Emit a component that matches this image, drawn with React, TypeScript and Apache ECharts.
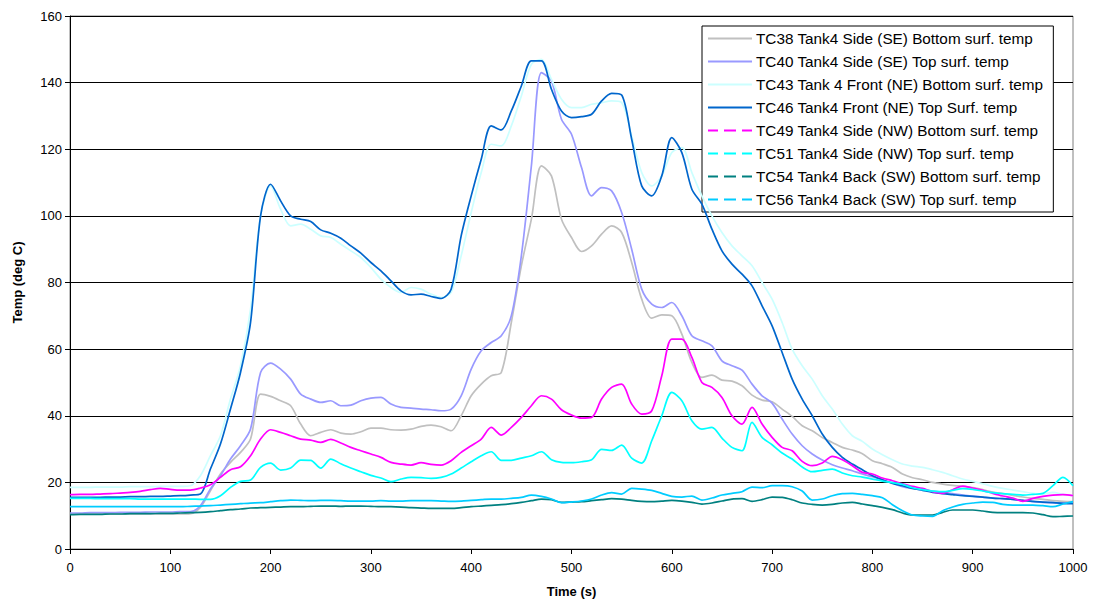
import React, { useEffect, useRef } from "react";
import * as echarts from "echarts";

const times: number[] = [];
for (let t = 0; t <= 1000; t += 10) times.push(t);

const seriesNames = [
  "TC38 Tank4 Side (SE) Bottom surf. temp",
  "TC40 Tank4 Side (SE) Top surf. temp",
  "TC43 Tank 4 Front (NE) Bottom surf. temp",
  "TC46 Tank4 Front (NE) Top Surf. temp",
  "TC49 Tank4 Side (NW) Bottom surf. temp",
  "TC51 Tank4 Side (NW) Top surf. temp",
  "TC54 Tank4 Back (SW) Bottom surf. temp",
  "TC56 Tank4 Back (SW) Top surf. temp",
];

const colors = ["#C0C0C0", "#9999FF", "#CCFFFF", "#0066CC", "#FF00FF", "#00FFFF", "#008080", "#00CCFF"];
const dashedLegend = [false, false, false, false, true, true, true, true];

const tc38 = [10.5, 10.5, 10.5, 10.5, 10.5, 10.5, 10.5, 10.5, 10.5, 10.5, 10.5, 10.5, 10.6,
  12.5, 17.5, 22.5, 26, 29, 33, 46.5, 45.8, 44.5, 43, 37.5, 34, 35, 35.8, 34.8, 34.5, 35.2,
  36.3, 36.3, 35.8, 35.7, 36, 36.8, 37.2, 36.7, 35.5, 40, 46, 49.5, 52, 53, 68, 85, 99, 115,
  112, 99, 93.5, 89.3, 91, 94.5, 97, 95, 86, 75, 69.3, 70.3, 70, 64.5, 56, 51.5, 52.2, 50.7,
  50.4, 49, 46.2, 44.7, 44.2, 42, 39.8, 37, 35.5, 33.5, 32, 30.5, 29.7, 28.6, 26.5, 25.6, 24.5,
  22.5, 21.4, 20.8, 20, 19.5, 19.1, 18.8, 18.4, 17.8, 17.1, 16.6, 16.1, 15.6, 15.2, 14.9, 14.5, 14.3, 14.2];

const tc40 = [10.8, 10.8, 10.9, 10.9, 10.9, 11, 11, 11, 11.1, 11.1, 11.1, 11.2, 11.2,
  13, 18, 22, 27, 31, 36, 53, 55.8, 54, 51, 46.5, 45, 44, 44.5, 43, 43.2, 44.5, 45.3, 45.5,
  43.5, 42.5, 42.3, 42, 41.8, 41.5, 42, 46, 54, 59.5, 62, 64, 70, 88, 115, 143, 140.5, 129,
  124.5, 114.5, 106, 108.5, 107.5, 101, 90, 78, 73.5, 72.5, 74, 70, 64, 62.5, 61, 56.5, 55,
  53.7, 49.5, 46, 43.8, 39, 34.5, 31, 28.5, 26.7, 25.3, 24.3, 23.5, 22.5, 21.7, 20.8, 19.8,
  18.7, 18.2, 17.8, 17.4, 17, 16.6, 16.2, 15.9, 15.6, 15.3, 15.1, 14.9, 14.6, 14.2, 14, 13.9, 13.8, 13.8];

const tc43 = [18.5, 18.5, 18.5, 18.6, 18.6, 18.6, 18.7, 18.7, 18.7, 18.8, 18.8, 18.8, 19,
  22, 28, 34, 45, 55, 72, 100, 109, 102, 97, 97.5, 96, 94, 93.5, 91.5, 89.5, 87.5, 84.5, 81,
  78.5, 77, 78.5, 78, 76.5, 75.5, 77, 88, 101, 113, 121.5, 121, 127, 136, 145.5, 147, 141,
  135, 132.5, 132.5, 133.5, 134, 134.5, 134, 124, 113, 109, 112, 119, 120.5, 113, 106, 100, 95,
  91, 88, 85, 80, 75, 68, 60, 55, 51, 46, 42, 37.5, 34, 32.3, 30, 28.3, 26.8, 25.5, 24.9,
  24.5, 23.8, 23, 22, 21, 20.3, 19.6, 18.8, 18.2, 17.7, 17.2, 16.7, 16.5, 17, 16.4, 16];

const tc46 = [15.5, 15.5, 15.5, 15.5, 15.6, 15.6, 15.7, 15.7, 15.8, 15.8, 15.9, 16, 16.2,
  16.5, 24, 31.5, 42, 53, 68, 100, 109.5, 104.5, 100, 99, 98.3, 95.8, 94.8, 93.3, 91, 88.8,
  86, 83.5, 80.5, 77.5, 76.3, 76.5, 75.8, 75.2, 78, 94, 106, 117, 127, 125.8, 131.5, 139,
  146.5, 146.5, 138, 131.5, 129.5, 129.8, 130.5, 134.5, 136.8, 136.3, 123, 109, 106, 112, 123.5,
  119, 108, 103.5, 96, 89.5, 85.5, 82.5, 79, 73, 67, 59, 51, 45, 40, 34.5, 30.5, 27.5, 25.5,
  23.8, 22, 20.8, 19.7, 19, 18.2, 17.6, 17, 16.6, 16.3, 16, 15.8, 15.6, 15.3, 15.1, 14.9,
  14.6, 14.3, 14.1, 13.9, 13.7, 13.6];

const tc49 = [16.3, 16.4, 16.4, 16.5, 16.6, 16.8, 17, 17.3, 17.8, 18.2, 17.9, 17.7, 17.7,
  18.3, 19.3, 21.5, 23.8, 24.7, 28, 33, 35.8, 35, 34, 33, 32.7, 32, 32.9, 31.8, 30.5, 29.5,
  28.5, 27.5, 26, 25.5, 25.2, 25.9, 25.4, 25.2, 26.5, 29, 31, 33, 36.5, 34.2, 36.5, 39.5, 43,
  46, 45, 41.8, 40.2, 39.3, 39.5, 45, 48.5, 49.5, 43.5, 40.5, 41.5, 52, 63, 63, 57.5, 50,
  48.5, 45.5, 40, 37.5, 42.5, 37.5, 33.5, 30.5, 29.5, 26.3, 25, 25.8, 27.8, 26.8, 25, 23,
  22.5, 21.3, 20.5, 19.6, 18.8, 18.2, 17.2, 16.7, 17.8, 18.9, 18.3, 17.6, 16.7, 15.9, 15.3,
  14.3, 15.2, 15.8, 16.2, 16.3, 16];

const tc51 = [15.2, 15.2, 15.2, 15.1, 15.1, 15.1, 15.1, 15, 15, 15, 15, 15, 15,
  14.9, 14.9, 16, 18.5, 20.3, 20.7, 24.5, 25.8, 23.7, 24.3, 26.7, 26.6, 24.3, 27, 25.6, 24.3,
  23.2, 22.1, 21.3, 20.2, 21, 21.5, 21.4, 21.2, 21.5, 22.5, 24.3, 26.2, 28, 29.2, 26.6, 26.6,
  27.3, 28, 29.2, 26.8, 26, 25.9, 26.2, 26.8, 29.9, 29.6, 31.2, 27.3, 25.8, 32.5, 40, 47,
  44.5, 38.5, 36, 36.5, 33.3, 30.5, 29.5, 38, 33.5, 31.3, 28.8, 27, 24.6, 23.2, 23.6, 24, 22.8,
  22, 21.6, 21, 20.4, 19.9, 19.4, 18.4, 17.8, 17.4, 17.2, 17.6, 18.1, 17.9, 17.4, 16.9, 16.6,
  16.4, 16.2, 16.4, 16.7, 19, 21.5, 19];

const tc54 = [10.3, 10.4, 10.4, 10.4, 10.5, 10.5, 10.6, 10.6, 10.6, 10.7, 10.7, 10.8, 10.9,
  11, 11.2, 11.5, 11.8, 12, 12.3, 12.4, 12.5, 12.6, 12.7, 12.7, 12.8, 12.9, 12.9, 12.8, 12.9,
  12.9, 12.8, 12.7, 12.7, 12.6, 12.4, 12.3, 12.2, 12.2, 12.2, 12.4, 12.7, 12.9, 13.1, 13.3,
  13.6, 14, 14.5, 15, 14.8, 14, 14.1, 14.2, 14.5, 14.8, 15.1, 15, 14.6, 14.3, 14.2, 14.4, 14.6,
  14.4, 14, 13.5, 13.8, 14.4, 15, 15.1, 14.3, 14.8, 15.6, 15.5, 14.8, 13.8, 13.4, 13.2, 13.4,
  13.8, 14, 13.5, 13, 12.5, 11.8, 10.8, 10.2, 10.2, 10.2, 11, 11.7, 11.7, 11.7, 11.4, 11, 10.9,
  10.9, 10.9, 10.8, 10.3, 9.7, 9.8, 9.9];

const tc56 = [12.7, 12.7, 12.7, 12.7, 12.7, 12.7, 12.7, 12.7, 12.7, 12.7, 12.7, 12.7, 12.8,
  12.9, 13, 13.2, 13.4, 13.6, 13.8, 13.9, 14.2, 14.5, 14.7, 14.6, 14.5, 14.6, 14.6, 14.5, 14.4,
  14.4, 14.4, 14.5, 14.4, 14.4, 14.5, 14.5, 14.5, 14.4, 14.3, 14.4, 14.6, 14.8, 15, 15, 15.2,
  15.5, 16.2, 15.8, 15, 13.9, 14.1, 14.4, 15, 16.2, 16.9, 16.5, 18.2, 18, 17.6, 16.7, 15.8,
  15.6, 15.9, 14.7, 15.3, 16.2, 16.7, 17.2, 18.6, 18.4, 19, 19, 18.7, 17.4, 14.7, 15, 16, 16.6,
  16.7, 16.4, 16, 15.4, 13.3, 11.5, 10.2, 9.9, 9.8, 11.5, 12.6, 13.4, 13.8, 14.1, 14, 13.4,
  13.2, 13.2, 13.2, 13, 12.7, 13.5, 14.2];

const allValues = [tc38, tc40, tc43, tc46, tc49, tc51, tc54, tc56];

const yTicks = { min: 0, max: 160, interval: 20 };
const xTicks = { min: 0, max: 1000, interval: 100 };

const solidIcon = "path://M0,0h44v2h-44z";
const dashedIcon = "path://M0,0h10v2h-10z M16,0h12v2h-12z M34,0h10v2h-10z";

export default function App() {
  const ref = useRef<HTMLDivElement>(null);
  useEffect(() => {
    if (!ref.current) return;
    const chart = echarts.init(ref.current, null, { renderer: "svg" });
    const font = "Arial, 'Liberation Sans', sans-serif";
    chart.setOption({
      animation: false,
      backgroundColor: "#ffffff",
      textStyle: { fontFamily: font },
      grid: {
        left: 70,
        right: 22,
        top: 16,
        bottom: 63,
        show: true,
        borderColor: "#808080",
        borderWidth: 1,
        containLabel: false,
      },
      legend: {
        orient: "vertical",
        left: 702,
        top: 26,
        padding: [5, 10, 5, 6],
        itemGap: 8,
        itemWidth: 44,
        itemHeight: 14,
        symbolKeepAspect: true,
        backgroundColor: "#ffffff",
        borderColor: "#000000",
        borderWidth: 1,
        textStyle: { fontSize: 15.3, color: "#000", fontFamily: font, padding: [0, 0, 0, -1] },
        data: seriesNames.map((n, i) => ({
          name: n,
          icon: dashedLegend[i] ? dashedIcon : solidIcon,
          itemStyle: { color: colors[i], borderWidth: 0 },
        })),
      },
      xAxis: {
        type: "value",
        min: xTicks.min,
        max: xTicks.max,
        interval: xTicks.interval,
        name: "Time (s)",
        nameLocation: "middle",
        nameGap: 36,
        nameTextStyle: { fontWeight: "bold", fontSize: 13, color: "#000" },
        axisLine: { show: true, lineStyle: { color: "#000", width: 1 } },
        axisTick: { show: true, length: 5, lineStyle: { color: "#000" } },
        axisLabel: { fontSize: 13, color: "#000", margin: 12, formatter: (v: number) => String(v) },
        splitLine: { show: false },
      },
      yAxis: {
        type: "value",
        min: yTicks.min,
        max: yTicks.max,
        interval: yTicks.interval,
        name: "Temp (deg C)",
        nameLocation: "middle",
        nameGap: 46,
        nameTextStyle: { fontWeight: "bold", fontSize: 13, color: "#000" },
        axisLine: { show: true, lineStyle: { color: "#000", width: 1 } },
        axisTick: { show: true, length: 5, lineStyle: { color: "#000" } },
        axisLabel: { fontSize: 13, color: "#000", margin: 8 },
        splitLine: { show: true, lineStyle: { color: "#000", width: 1 } },
      },
      series: seriesNames.map((n, i) => ({
        name: n,
        type: "line",
        symbol: "none",
        smooth: 0.3,
        data: times.map((t, k) => [t, allValues[i][k]]),
        lineStyle: { color: colors[i], width: 1.7 },
        itemStyle: { color: colors[i] },
        z: 2 + i,
      })),
    });
    return () => chart.dispose();
  }, []);
  return (
    <div
      ref={ref}
      style={{ position: "fixed", left: 0, top: 0, width: 1095, height: 612, background: "#fff" }}
    />
  );
}
